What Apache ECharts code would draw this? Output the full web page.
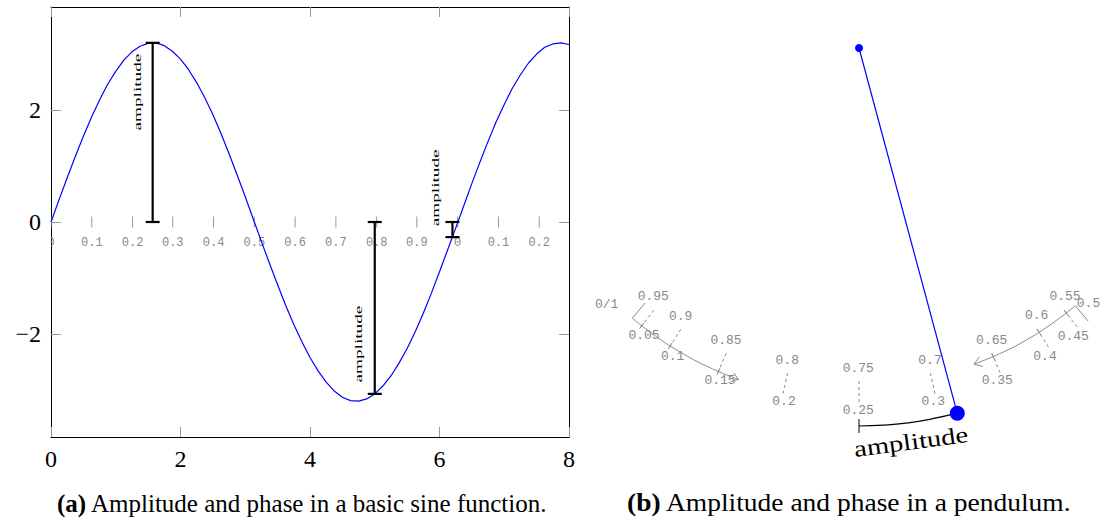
<!DOCTYPE html>
<html>
<head>
<meta charset="utf-8">
<script src="https://cdn.jsdelivr.net/npm/echarts@6/dist/echarts.min.js"></script>
<style>
  html, body { margin: 0; padding: 0; background: #fff; }
  #chart { width: 1102px; height: 518px; }
</style>
</head>
<body>
<div id="chart"></div>
<script>
// ---- left panel: sine wave ----
const sineX = [0, 0.125, 0.25, 0.375, 0.5, 0.625, 0.75, 0.875, 1, 1.125, 1.25, 1.375, 1.5, 1.625, 1.75,
  1.875, 2, 2.125, 2.25, 2.375, 2.5, 2.625, 2.75, 2.875, 3, 3.125, 3.25, 3.375, 3.5, 3.625, 3.75, 3.875,
  4, 4.125, 4.25, 4.375, 4.5, 4.625, 4.75, 4.875, 5, 5.125, 5.25, 5.375, 5.5, 5.625, 5.75, 5.875, 6,
  6.125, 6.25, 6.375, 6.5, 6.625, 6.75, 6.875, 7, 7.125, 7.25, 7.375, 7.5, 7.625, 7.75, 7.875, 8];
const sineY = [0, 0.4, 0.79, 1.17, 1.53, 1.87, 2.18, 2.46, 2.69, 2.89, 3.04, 3.14, 3.19, 3.2, 3.15,
  3.05, 2.91, 2.72, 2.49, 2.22, 1.92, 1.58, 1.22, 0.84, 0.45, 0.05, -0.35, -0.74, -1.12, -1.49, -1.83, -2.14,
  -2.42, -2.66, -2.86, -3.02, -3.13, -3.19, -3.2, -3.16, -3.07, -2.93, -2.75, -2.52, -2.26, -1.96, -1.63, -1.27, -0.89,
  -0.5, -0.11, 0.29, 0.69, 1.07, 1.44, 1.79, 2.1, 2.39, 2.63, 2.84, 3.0, 3.12, 3.18, 3.2, 3.17];

// amplitude bars (x, end value) and their rotated labels
const ampX = [1.57, 5.0, 6.2];
const ampY = [3.2, -3.07, -0.27];
const ampLabelX = [1.33, 4.74, 5.93];
const ampLabelY = [2.32, -2.18, 0.61];

// phase marks along y = 0
const phaseX = [0, 0.63, 1.26, 1.88, 2.51, 3.14, 3.77, 4.4, 5.03, 5.65, 6.28, 6.91, 7.54];
const phaseLabels = ["0", "0.1", "0.2", "0.3", "0.4", "0.5", "0.6", "0.7", "0.8", "0.9", "0", "0.1", "0.2"];

const yTickValues = [-2, 0, 2];

// ---- right panel: pendulum (offsets from the pivot) ----
const pivot = [0, 0];
const bob = [98.3, -365.3];
const ampArc = [[0, -378], [24.7, -377.2], [49.3, -374.8], [73.7, -370.7], [97.8, -365.1]];
const ampArcTicks = [
  [[0, -371], [0, -385]],
  [[96.0, -358.3], [99.6, -371.9]]
];
const leftArc = [[-226.7, -270.2], [-202.3, -288.9], [-176.4, -305.4], [-149.1, -319.7], [-120.6, -331.4]];
const rightArc = [[216.3, -257.8], [193.0, -275.6], [168.3, -291.4], [142.2, -305.0], [115.1, -316.2]];
const arcMarks = [
  [[-226.7, -270.2], [-213.8, -254.9]],
  [[216.3, -257.8], [229.2, -273.1]],
  [[-215.1, -275.0], [-219.5, -280.6]],
  [[-186.9, -294.9], [-190.7, -300.9]],
  [[-139.2, -320.3], [-142.0, -326.7]],
  [[205.1, -262.3], [209.5, -267.9]],
  [[178.2, -281.2], [182.0, -287.2]],
  [[132.8, -305.4], [135.6, -311.8]],
  [[-128.3, -333.5], [-120.6, -331.4], [-125.2, -324.8]],
  [[120.3, -308.8], [115.1, -316.2], [123.8, -318.5]]
];
const phaseDashes = [
  [[-205.2, -262.3], [-219.3, -280.4]],
  [[-178.2, -281.3], [-190.5, -300.7]],
  [[-132.8, -305.4], [-141.9, -326.5]],
  [[-71.5, -325.2], [-76.4, -347.7]],
  [[0, -333], [0, -356]],
  [[71.5, -325.2], [76.4, -347.7]],
  [[132.8, -305.4], [141.9, -326.5]],
  [[178.2, -281.3], [190.5, -300.7]],
  [[205.2, -262.3], [219.3, -280.4]]
];
const pendLabels = ["0/1", "0.95", "0.05", "0.9", "0.1", "0.85", "0.15", "0.8", "0.2", "0.75", "0.25",
  "0.7", "0.3", "0.65", "0.35", "0.6", "0.4", "0.55", "0.45", "0.5"];
const pendLabelPos = [[-252.3, -256], [-205.7, -248.7], [-215, -287.7], [-178.3, -268], [-186.3, -308],
  [-133, -292], [-139, -332], [-71.7, -312], [-75, -353.7], [-0.7, -320.3], [-0.7, -362],
  [71, -312], [74.3, -353.7], [132.7, -292], [138.3, -332.7], [177.7, -267], [186, -308],
  [206, -248.7], [214.3, -288], [229.5, -255]];
const pendAmpLabelPos = [52, -394];

const captions = ["Amplitude and phase in a basic sine function.", "Amplitude and phase in a pendulum."];

const GRAY = "#888";
const SERIF = "'Liberation Serif', 'DejaVu Serif', serif";
const MONO = "'Liberation Mono', 'DejaVu Sans Mono', monospace";

const chart = echarts.init(document.getElementById("chart"), null, { renderer: "svg" });

function txt(p, text, font, fill, rot, sx) {
  return {
    type: "text", x: p[0], y: p[1], rotation: rot || 0, scaleX: sx || 1,
    style: { text: text, font: font, fill: fill, align: "center", verticalAlign: "middle",
      textAlign: "center", textVerticalAlign: "middle" }
  };
}

// polyline segments drawn through the axes of the right panel
function segSeries(segs, color, dash) {
  return {
    type: "custom", xAxisIndex: 2, yAxisIndex: 2, silent: true,
    data: segs.map((s) => s[0]),
    renderItem: (params, api) => ({
      type: "polyline",
      shape: { points: segs[params.dataIndex].map((p) => api.coord(p)) },
      style: { stroke: color, lineWidth: 1, fill: null, lineDash: dash || null }
    })
  };
}

function caption(tag, text, x, sx) {
  return {
    type: "text", x: x, y: 503, scaleX: sx, silent: true,
    style: {
      text: "{b|" + tag + "} " + text,
      font: "25px " + SERIF, fill: "#000", verticalAlign: "middle",
      rich: { b: { fontFamily: SERIF, fontSize: 25, fontWeight: "bold", fill: "#000", color: "#000" } }
    }
  };
}

const frameAxis = {
  axisLine: { show: true, onZero: false, lineStyle: { color: "#000", width: 1 } },
  splitLine: { show: false }
};

const option = {
  animation: false,
  graphic: [caption("(a)", captions[0], 57, 1.0), caption("(b)", captions[1], 627, 1.1)],
  grid: [
    { left: 51, top: 7, width: 518, height: 430 },
    { left: 590, top: 0, width: 512, height: 518 }
  ],
  xAxis: [
    Object.assign({
      gridIndex: 0, type: "value", min: 0, max: 8, interval: 2, position: "bottom",
      axisTick: { inside: true, length: 10, lineStyle: { color: "#999" } },
      axisLabel: { fontFamily: SERIF, fontSize: 24, color: "#000", margin: 10 }
    }, frameAxis),
    Object.assign({
      gridIndex: 0, type: "value", min: 0, max: 8, interval: 2, position: "top",
      axisTick: { inside: true, length: 10, lineStyle: { color: "#999" } },
      axisLabel: { show: false }
    }, frameAxis),
    { gridIndex: 1, type: "value", min: -269, max: 243, show: false }
  ],
  yAxis: [
    Object.assign({
      gridIndex: 0, type: "value", min: -3.84, max: 3.84, position: "left",
      axisTick: { show: true, inside: true, length: 10, customValues: yTickValues, lineStyle: { color: "#999" } },
      axisLabel: { fontFamily: SERIF, fontSize: 24, color: "#000", margin: 10, customValues: yTickValues,
        formatter: (v) => String(v).replace("-", "\u2212") }
    }, frameAxis),
    Object.assign({
      gridIndex: 0, type: "value", min: -3.84, max: 3.84, position: "right",
      axisTick: { show: true, inside: true, length: 10, customValues: yTickValues, lineStyle: { color: "#999" } },
      axisLabel: { show: false }
    }, frameAxis),
    { gridIndex: 1, type: "value", min: -470, max: 48, show: false }
  ],
  series: [
    {
      type: "line", xAxisIndex: 0, yAxisIndex: 0, smooth: false, showSymbol: false, silent: true,
      data: sineX.map((x, i) => [x, sineY[i]]),
      lineStyle: { color: "#0000ff", width: 1.2 }, itemStyle: { color: "#0000ff" }
    },
    {
      // phase ticks and labels along y = 0
      type: "custom", xAxisIndex: 0, yAxisIndex: 0, clip: true, silent: true,
      data: phaseX.map((x) => [x, 0]),
      renderItem: (params, api) => {
        const p = api.coord([phaseX[params.dataIndex], 0]);
        return {
          type: "group",
          children: [
            { type: "line", shape: { x1: p[0], y1: p[1] - 5.5, x2: p[0], y2: p[1] + 5.5 },
              style: { stroke: "#999", lineWidth: 1 } },
            txt([p[0], p[1] + 21], phaseLabels[params.dataIndex], "12px " + MONO, GRAY)
          ]
        };
      }
    },
    {
      // amplitude bars with caps
      type: "custom", xAxisIndex: 0, yAxisIndex: 0, silent: true, z: 4,
      data: ampX.map((x, i) => [x, ampY[i]]),
      renderItem: (params, api) => {
        const i = params.dataIndex;
        const a = api.coord([ampX[i], 0]);
        const b = api.coord([ampX[i], ampY[i]]);
        const st = { stroke: "#000", lineWidth: 2.2 };
        return {
          type: "group",
          children: [
            { type: "line", shape: { x1: a[0], y1: a[1], x2: b[0], y2: b[1] }, style: st },
            { type: "line", shape: { x1: a[0] - 7, y1: a[1], x2: a[0] + 7, y2: a[1] }, style: st },
            { type: "line", shape: { x1: b[0] - 7, y1: b[1], x2: b[0] + 7, y2: b[1] }, style: st }
          ]
        };
      }
    },
    {
      type: "custom", xAxisIndex: 0, yAxisIndex: 0, silent: true,
      data: ampLabelX.map((x, i) => [x, ampLabelY[i]]),
      renderItem: (params, api) => {
        const i = params.dataIndex;
        return txt(api.coord([ampLabelX[i], ampLabelY[i]]), "amplitude", "11px " + SERIF, "#000", Math.PI / 2, 1.75);
      }
    },
    // ---- pendulum ----
    {
      type: "line", xAxisIndex: 2, yAxisIndex: 2, showSymbol: false, silent: true,
      data: [pivot, bob], lineStyle: { color: "#0000ff", width: 1.2 }
    },
    {
      type: "line", xAxisIndex: 2, yAxisIndex: 2, smooth: true, showSymbol: false, silent: true,
      data: ampArc, lineStyle: { color: "#000", width: 1.2 }
    },
    {
      type: "line", xAxisIndex: 2, yAxisIndex: 2, smooth: true, showSymbol: false, silent: true,
      data: leftArc, lineStyle: { color: GRAY, width: 1 }
    },
    {
      type: "line", xAxisIndex: 2, yAxisIndex: 2, smooth: true, showSymbol: false, silent: true,
      data: rightArc, lineStyle: { color: GRAY, width: 1 }
    },
    segSeries(arcMarks, GRAY),
    segSeries(phaseDashes, GRAY, [3, 3]),
    segSeries(ampArcTicks, "#000"),
    {
      type: "scatter", xAxisIndex: 2, yAxisIndex: 2, silent: true, z: 5,
      data: [[pivot[0], pivot[1], 8], [bob[0], bob[1], 15]],
      symbolSize: (v) => v[2], itemStyle: { color: "#0000ff", opacity: 1 }
    },
    {
      type: "custom", xAxisIndex: 2, yAxisIndex: 2, silent: true,
      data: pendLabelPos,
      renderItem: (params, api) =>
        txt(api.coord(pendLabelPos[params.dataIndex]), pendLabels[params.dataIndex], "13px " + MONO, GRAY)
    },
    {
      type: "custom", xAxisIndex: 2, yAxisIndex: 2, silent: true,
      data: [pendAmpLabelPos],
      renderItem: (params, api) =>
        txt(api.coord(pendAmpLabelPos), "amplitude", "23px " + SERIF, "#000", 7.5 * Math.PI / 180, 1.25)
    }
  ]
};

chart.setOption(option);
</script>
</body>
</html>
